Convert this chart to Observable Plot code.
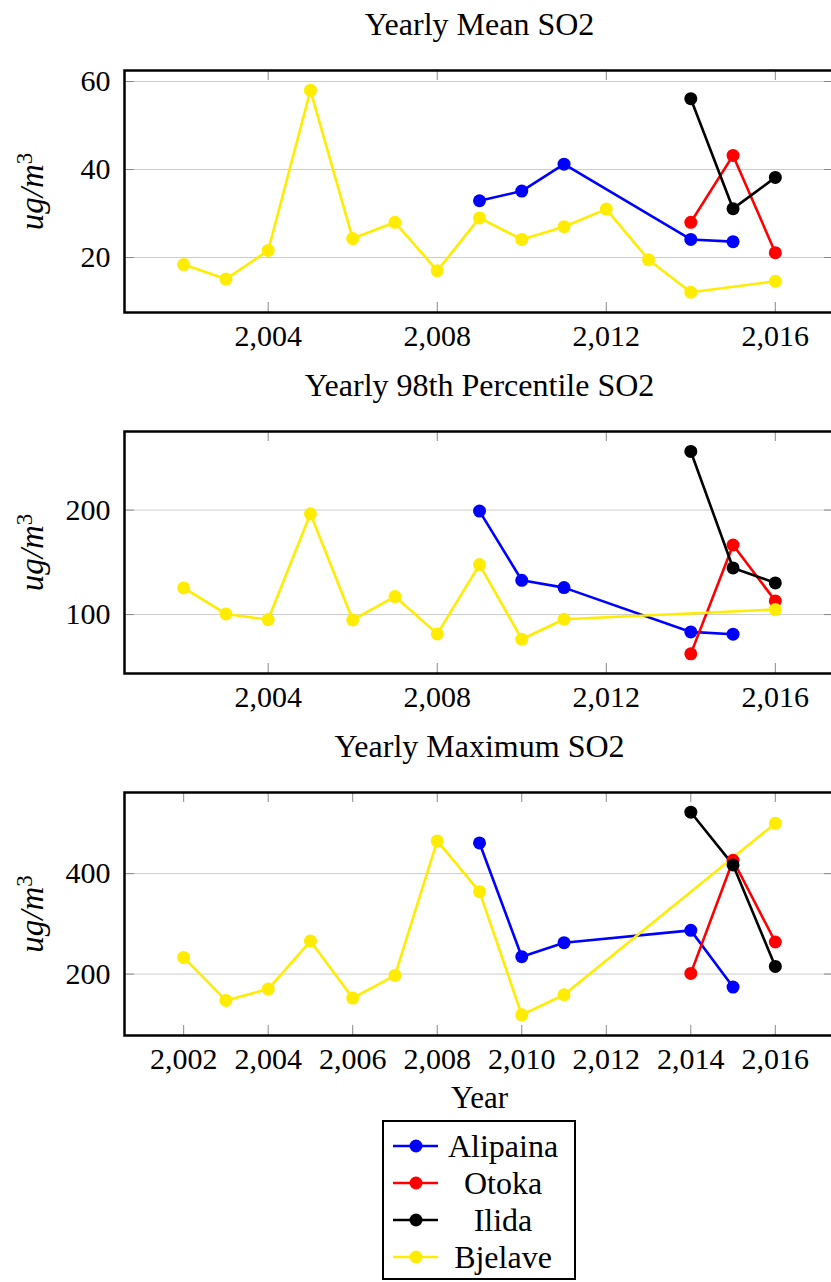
<!DOCTYPE html>
<html><head><meta charset="utf-8">
<script src="https://cdn.jsdelivr.net/npm/d3@7"></script>
<script src="https://cdn.jsdelivr.net/npm/@observablehq/plot@0.6"></script>
<style>
html,body{margin:0;padding:0;overflow:hidden;background:#fff;width:831px;height:1282px}
#root{position:relative;width:831px;height:1282px;overflow:hidden}
.panel{position:absolute;left:0;max-width:none !important}
</style></head><body><div id="root"></div>
<script>
const stations = ["Alipaina", "Otoka", "Ilida", "Bjelave"];
const stationColors = ["#0000ff", "#ff0000", "#000000", "#ffec00"];

// Yearly mean SO2 [year, value]
const meanAlipaina = [[2009,32.9],[2010,35.1],[2011,41.2],[2014,24.1],[2015,23.6]];
const meanOtoka = [[2014,28.0],[2015,43.2],[2016,21.1]];
const meanIlida = [[2014,56.1],[2015,31.1],[2016,38.2]];
const meanBjelave = [[2002,18.4],[2003,15.1],[2004,21.6],[2005,58.0],[2006,24.3],[2007,28.0],[2008,17.0],[2009,29.0],[2010,24.1],[2011,27.0],[2012,31.0],[2013,19.5],[2014,12.1],[2016,14.6]];

// Yearly 98th percentile SO2
const p98Alipaina = [[2009,199.0],[2010,132.8],[2011,125.8],[2014,83.4],[2015,81.2]];
const p98Otoka = [[2014,62.4],[2015,166.6],[2016,113.1]];
const p98Ilida = [[2014,256.1],[2015,144.6],[2016,130.3]];
const p98Bjelave = [[2002,125.5],[2003,100.6],[2004,95.2],[2005,196.5],[2006,94.9],[2007,117.2],[2008,81.5],[2009,147.8],[2010,76.4],[2011,95.5],[2016,104.8]];

// Yearly maximum SO2
const maxAlipaina = [[2009,461.1],[2010,234.6],[2011,262.5],[2014,287.0],[2015,174.1]];
const maxOtoka = [[2014,201.3],[2015,426.6],[2016,263.8]];
const maxIlida = [[2014,522.3],[2015,417.3],[2016,215.3]];
const maxBjelave = [[2002,233.2],[2003,147.5],[2004,170.1],[2005,265.8],[2006,152.2],[2007,197.3],[2008,465.1],[2009,364.1],[2010,118.9],[2011,158.8],[2016,500.3]];

const titles = ["Yearly Mean SO2", "Yearly 98th Percentile SO2", "Yearly Maximum SO2"];
const xTicksCoarse = [2004, 2008, 2012, 2016];
const xTicksFine = [2002, 2004, 2006, 2008, 2010, 2012, 2014, 2016];
const yTicksMean = [20, 40, 60];
const yTicksP98 = [100, 200];
const yTicksMax = [200, 400];
const yLabelBase = "ug/m";
const yLabelSup = "3";
const xLabel = "Year";

const FONT = '"Liberation Serif", Tinos, "Times New Roman", serif';

function rowsOf(seriesList) {
  const out = [];
  seriesList.forEach((s, i) => s.forEach(([year, value]) => out.push({station: stations[i], year, value})));
  return out;
}

function panel({title, series, yDomain, yTicks, xTicks, top, innerH, marginBottom, showXLabel}) {
  const W = 840, mL = 124, mR = 6, mT = 70;
  const innerW = W - mL - mR;
  const rows = rowsOf(series);
  const marks = [
    Plot.gridY(yTicks, {stroke: "#cccccc", strokeOpacity: 1, strokeWidth: 1}),
    Plot.tickX(xTicks, {x: d => d, stroke: "#8a8a8a", strokeWidth: 1, insetTop: innerH - 10}),
    Plot.tickX(xTicks, {x: d => d, stroke: "#8a8a8a", strokeWidth: 1, insetBottom: innerH - 10}),
    Plot.tickY(yTicks, {y: d => d, stroke: "#8a8a8a", strokeWidth: 1, insetRight: innerW - 10}),
    Plot.tickY(yTicks, {y: d => d, stroke: "#8a8a8a", strokeWidth: 1, insetLeft: innerW - 10}),
    Plot.line(rows, {x: "year", y: "value", z: "station", stroke: "station", strokeWidth: 2.6}),
    Plot.dot(rows, {x: "year", y: "value", fill: "station", r: 6.5}),
    Plot.frame({stroke: "black", strokeWidth: 2.5}),
    Plot.axisX({ticks: xTicks, tickSize: 0, tickPadding: 12, tickFormat: d3.format(","), label: null, fill: "black"}),
    Plot.axisY({ticks: yTicks, tickSize: 0, tickPadding: 14, label: null, fill: "black"}),
    Plot.text([title], {frameAnchor: "top", dy: -36, lineAnchor: "bottom", fontSize: 32, fill: "black"}),
    Plot.text([yLabelBase], {frameAnchor: "left", dx: -82, rotate: -90, textAnchor: "middle", lineAnchor: "bottom", fontStyle: "italic", fontSize: 33, fill: "black"})
  ];
  if (showXLabel) marks.push(Plot.text([xLabel], {frameAnchor: "bottom", dy: 72, lineAnchor: "bottom", fontSize: 31, fill: "black"}));
  const svg = Plot.plot({
    width: W, height: mT + innerH + marginBottom,
    marginLeft: mL, marginRight: mR, marginTop: mT, marginBottom,
    style: {fontFamily: FONT, fontSize: "30px", background: "transparent", color: "black", overflow: "visible", maxWidth: "none"},
    x: {domain: [2000.6, 2017.4]},
    y: {domain: yDomain},
    color: {domain: stations, range: stationColors},
    marks
  });
  // add the upright superscript 3 to the unit label
  d3.select(svg).selectAll("text").filter(function() { return this.textContent === yLabelBase; })
    .append("tspan").attr("dy", "-0.45em").attr("font-size", 23).attr("font-style", "normal").text(yLabelSup);
  svg.classList.add("panel");
  svg.style.top = top + "px";
  svg.style.maxWidth = "none";
  document.getElementById("root").appendChild(svg);
}

panel({title: titles[0], series: [meanAlipaina, meanOtoka, meanIlida, meanBjelave], yDomain: [7.5, 62.5], yTicks: yTicksMean, xTicks: xTicksCoarse, top: 0, innerH: 242, marginBottom: 48});
panel({title: titles[1], series: [p98Alipaina, p98Otoka, p98Ilida, p98Bjelave], yDomain: [43.6, 275.2], yTicks: yTicksP98, xTicks: xTicksCoarse, top: 361, innerH: 242, marginBottom: 48});
panel({title: titles[2], series: [maxAlipaina, maxOtoka, maxIlida, maxBjelave], yDomain: [77.7, 561.5], yTicks: yTicksMax, xTicks: xTicksFine, top: 722, innerH: 243, marginBottom: 80, showXLabel: true});

// Legend
const lg = d3.select("#root").append("svg").attr("class", "panel")
  .attr("width", 831).attr("height", 1282).style("top", "0px").style("pointer-events", "none");
lg.append("rect").attr("x", 383).attr("y", 1121).attr("width", 192).attr("height", 158)
  .attr("fill", "white").attr("stroke", "black").attr("stroke-width", 2);
const rowY = d3.scalePoint().domain(stations).range([1146, 1257]);
const lcol = d3.scaleOrdinal().domain(stations).range(stationColors);
stations.forEach(s => {
  const y = rowY(s);
  lg.append("line").attr("x1", 393).attr("x2", 438).attr("y1", y).attr("y2", y).attr("stroke", lcol(s)).attr("stroke-width", 2.6);
  lg.append("circle").attr("cx", 416).attr("cy", y).attr("r", 6.5).attr("fill", lcol(s));
  lg.append("text").attr("x", 503).attr("y", y).attr("dy", "0.33em").attr("text-anchor", "middle")
    .attr("font-family", FONT).attr("font-size", 32).text(s);
});
</script></body></html>
